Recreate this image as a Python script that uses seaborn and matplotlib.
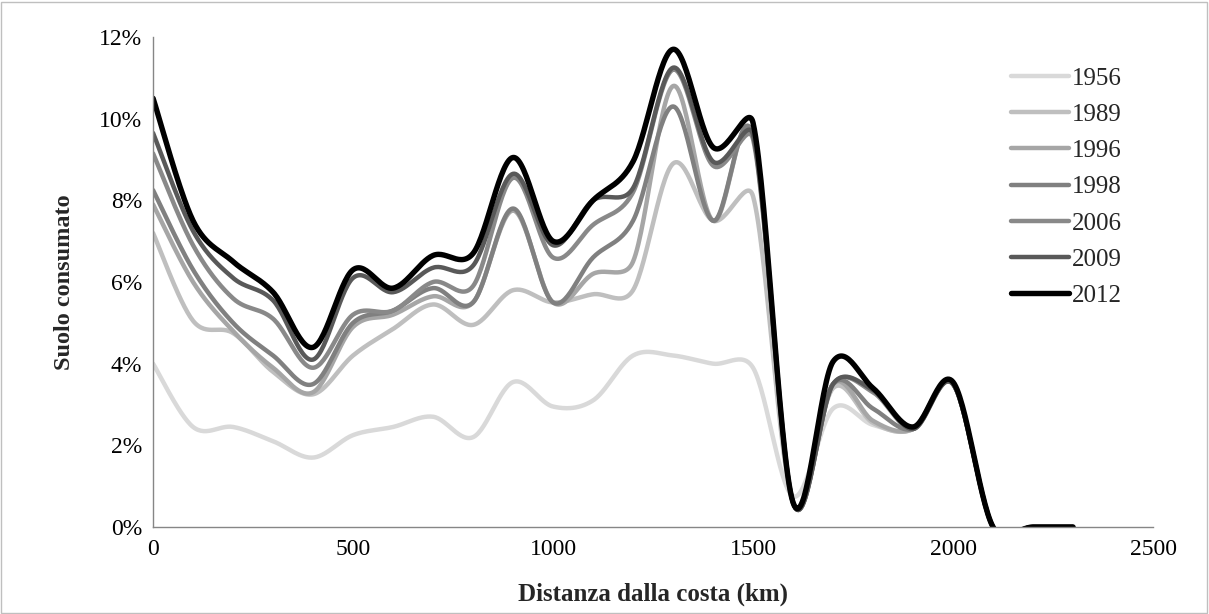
import seaborn as sns
import matplotlib.pyplot as plt
import matplotlib.ticker as mticker
from matplotlib.patches import Rectangle
import pandas as pd
import numpy as np

sns.set_style('white')
plt.rcParams['font.family'] = ['Liberation Serif', 'DejaVu Serif']

# Distance from the coast (km), one value every 100 km
distance = [0, 100, 200, 300, 400, 500, 600, 700, 800, 900, 1000, 1100,
            1200, 1300, 1400, 1500, 1600, 1700, 1800, 1900, 2000, 2100, 2200, 2300]

# Consumed soil (%) per survey year
y1956 = [4.0, 2.45, 2.45, 2.1, 1.7, 2.25, 2.45, 2.7, 2.2, 3.55, 2.95, 3.1,
         4.2, 4.2, 4.0, 3.9, 0.75, 2.9, 2.5, 2.4, 3.5, 0.0, 0.0, 0.0]
y1989 = [7.2, 5.05, 4.75, 3.8, 3.25, 4.2, 4.85, 5.45, 4.95, 5.8, 5.5, 5.7,
         5.8, 8.9, 7.5, 8.1, 0.6, 3.4, 2.55, 2.4, 3.5, 0.0, 0.0, 0.0]
y1996 = [7.9, 6.0, 4.8, 3.9, 3.3, 4.9, 5.2, 5.65, 5.5, 7.75, 5.5, 6.2,
         6.5, 10.8, 7.5, 9.6, 0.6, 3.5, 2.6, 2.4, 3.5, 0.0, 0.0, 0.0]
y1998 = [8.25, 6.3, 5.0, 4.2, 3.5, 5.0, 5.3, 5.85, 5.5, 7.8, 5.5, 6.6,
         7.5, 10.3, 7.5, 9.6, 0.6, 3.5, 2.9, 2.4, 3.5, 0.0, 0.0, 0.0]
y2006 = [9.15, 6.9, 5.6, 5.1, 3.9, 5.2, 5.3, 6.0, 5.9, 8.55, 6.6, 7.4,
         8.2, 11.2, 8.85, 9.5, 0.6, 3.5, 3.3, 2.4, 3.5, 0.0, 0.0, 0.0]
y2009 = [9.65, 7.25, 6.1, 5.55, 4.1, 6.1, 5.75, 6.35, 6.4, 8.65, 6.9, 8.0,
         8.3, 11.25, 8.95, 9.6, 0.6, 3.5, 3.35, 2.4, 3.5, 0.0, 0.0, 0.0]
y2012 = [10.5, 7.5, 6.5, 5.75, 4.4, 6.3, 5.85, 6.65, 6.7, 9.05, 7.0, 8.0,
         8.95, 11.7, 9.3, 9.9, 0.6, 4.05, 3.4, 2.45, 3.55, 0.0, 0.0, 0.0]

years = ['1956', '1989', '1996', '1998', '2006', '2009', '2012']
series = [y1956, y1989, y1996, y1998, y2006, y2009, y2012]
colors = ['#d9d9d9', '#bfbfbf', '#a6a6a6', '#808080', '#898989', '#595959', '#000000']
widths = [3.2, 3.2, 3.2, 3.2, 3.2, 3.2, 3.9]

# pixel scale of the plot area, used so the smoothing behaves like Excel's
PX_PER_KM = 0.4
PX_PER_PCT = 40.8


def smooth(x, y, n=30):
    # Excel-style smoothed line: Bezier segments, control arm limited to half a segment
    px = np.asarray(x, float) * PX_PER_KM
    py = np.asarray(y, float) * PX_PER_PCT
    P = np.column_stack([px, py])
    P = np.vstack([P[0], P, P[-1]])
    t = np.linspace(0, 1, n, endpoint=False)[:, None]
    out = []
    for i in range(1, len(P) - 2):
        p0, p1, p2, p3 = P[i - 1], P[i], P[i + 1], P[i + 2]
        d12 = np.linalg.norm(p2 - p1)
        d02 = np.linalg.norm(p2 - p0)
        d13 = np.linalg.norm(p3 - p1)
        f1 = 1 / 6 if d02 / 6 < d12 / 2 else (d12 / 2 / d02 if d02 > 0 else 0)
        f2 = 1 / 6 if d13 / 6 < d12 / 2 else (d12 / 2 / d13 if d13 > 0 else 0)
        b1 = p1 + f1 * (p2 - p0)
        b2 = p2 - f2 * (p3 - p1)
        seg = ((1 - t) ** 3) * p1 + 3 * t * (1 - t) ** 2 * b1 + 3 * t ** 2 * (1 - t) * b2 + t ** 3 * p2
        out.append(seg)
    out.append(P[-2][None, :])
    out = np.vstack(out)
    return out[:, 0] / PX_PER_KM, out[:, 1] / PX_PER_PCT


fig = plt.figure(figsize=(12.09, 6.14), dpi=100)
ax = fig.add_axes([0.1266, 0.1417, 0.8271, 0.7980])

for year, vals, col, lw in zip(years, series, colors, widths):
    sx, sy = smooth(distance, vals)
    df = pd.DataFrame({'Distanza': sx, 'Suolo': sy})
    sns.lineplot(data=df, x='Distanza', y='Suolo', ax=ax, color=col,
                 linewidth=lw, label=year, sort=False,
                 solid_capstyle='round', solid_joinstyle='round')

ax.set_xlim(0, 2500)
ax.set_ylim(0, 12)
ax.set_xticks(range(0, 2501, 500))
ax.set_yticks(range(0, 13, 2))
ax.yaxis.set_major_formatter(mticker.FuncFormatter(lambda v, p: f'{v:.0f}%'))

for side in ['top', 'right']:
    ax.spines[side].set_visible(False)
for side in ['left', 'bottom']:
    ax.spines[side].set_color('#868686')
    ax.spines[side].set_linewidth(1.0)
ax.tick_params(axis='both', direction='out', length=5, width=1.0,
               color='#868686', labelsize=17, labelcolor='black')
ax.tick_params(axis='x', pad=4)
ax.tick_params(axis='y', pad=3)

ax.set_xlabel('Distanza dalla costa (km)', fontsize=18, fontweight='bold', labelpad=16)
ax.set_ylabel('Suolo consumato', fontsize=17.5, fontweight='bold', labelpad=17)

leg = ax.legend(loc='upper left', bbox_to_anchor=(0.828, 0.907),
                bbox_transform=fig.transFigure, frameon=False,
                fontsize=18, handlelength=2.3, handletextpad=0.12,
                labelspacing=0.55, borderaxespad=0)
for line in leg.get_lines():
    line.set_solid_capstyle('round')

fig.patches.append(Rectangle((0.001, 0.002), 0.997, 0.995, transform=fig.transFigure,
                             fill=False, edgecolor='#bfbfbf', linewidth=1.0))

fig.savefig('out.png', dpi=100)
plt.close(fig)
